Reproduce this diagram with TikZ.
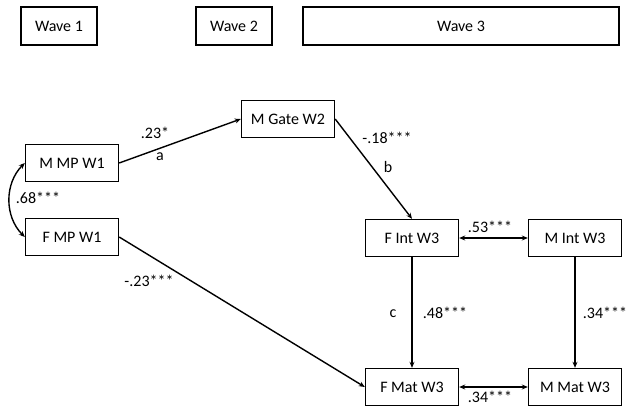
\documentclass[tikz,border=0pt]{standalone}
\usepackage{fontspec}
\setmainfont{Carlito}
\usetikzlibrary{arrows.meta}
\begin{document}
\begin{tikzpicture}[x=1pt,y=-1pt]
\tikzstyle{boite}=[draw, line width=1.4pt, minimum width=93pt, minimum height=37pt, inner sep=0pt, font=\fontsize{16}{19}\selectfont];
\tikzstyle{lien}=[line width=1.4pt, -{Stealth[length=6pt,width=5pt]}];
\tikzstyle{bilien}=[line width=1.4pt, {Stealth[length=6pt,width=5pt]}-{Stealth[length=6pt,width=5pt]}];
\tikzstyle{coef}=[inner sep=0pt, font=\fontsize{16}{19}\selectfont];
\useasboundingbox (0,0) rectangle (632,415);

\node[boite, minimum width=76pt, minimum height=38pt] (w1) at (59,26) {Wave 1};
\node[boite, minimum width=76pt, minimum height=38pt] (w2) at (234,26) {Wave 2};
\node[boite, minimum width=316pt, minimum height=38pt] (w3) at (461,26) {Wave 3};

\node[boite] (mmp) at (72,163) {M MP W1};
\node[boite] (fmp) at (72,237) {F MP W1};
\node[boite] (mgate) at (288,119) {M Gate W2};
\node[boite] (fint) at (412,238) {F Int W3};
\node[boite] (mint) at (575,238) {M Int W3};
\node[boite] (fmat) at (412,387) {F Mat W3};
\node[boite] (mmat) at (575,387) {M Mat W3};

\draw[lien] (mmp.east) -- (mgate.west);
\draw[lien] (mgate.east) -- (fint.north);
\draw[lien] (fmp.east) -- (fmat.west);
\draw[lien] (fint.south) -- (fmat.north);
\draw[lien] (mint.south) -- (mmat.north);
\draw[bilien] (fint.east) -- (mint.west);
\draw[bilien] (fmat.east) -- (mmat.west);
\draw[bilien] (mmp.west) to[bend right=45] (fmp.west);

\node[coef] (ca) at (155,133) {.23*};
\node[coef] (la) at (160,157) {a};
\node[coef] (cb) at (387,138) {-.18***};
\node[coef] (lb) at (388,167) {b};
\node[coef] (cmp) at (38,198) {.68***};
\node[coef] (cfm) at (149,281) {-.23***};
\node[coef] (cint) at (490,227) {.53***};
\node[coef] (lc) at (393,314) {c};
\node[coef] (cf) at (445,313) {.48***};
\node[coef] (cm) at (605,313) {.34***};
\node[coef] (cmat) at (490,397) {.34***};
\end{tikzpicture}
\end{document}
